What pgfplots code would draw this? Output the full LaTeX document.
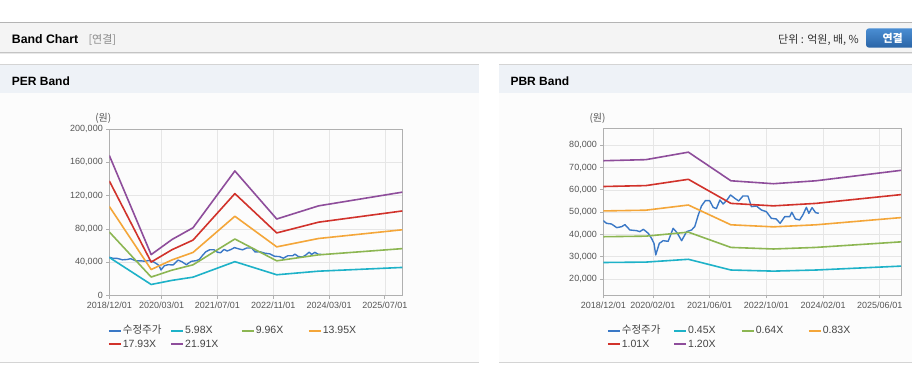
\documentclass[border=0pt]{standalone}
\usepackage{pgfplots}
\pgfplotsset{compat=1.18}
\usepackage{pgfplotstable}
\usepackage{fontspec}
\setmainfont{Liberation Sans}
\newfontfamily\kr{Noto Sans CJK KR}

\definecolor{cPrice}{HTML}{3A78C6}
\definecolor{cA}{HTML}{1EB2C8}
\definecolor{cB}{HTML}{8CB652}
\definecolor{cC}{HTML}{F4A639}
\definecolor{cD}{HTML}{D1322B}
\definecolor{cE}{HTML}{8E4D9B}
\definecolor{tickc}{HTML}{555555}
\definecolor{axisgray}{HTML}{B0B0B0}
\definecolor{gridgray}{HTML}{E6E6E6}
\definecolor{legtext}{HTML}{444444}
\definecolor{hdrfill}{HTML}{F4F4F4}
\definecolor{hdrline}{HTML}{B4B4B4}
\definecolor{hdrbot}{HTML}{C4C4C4}
\definecolor{shadow}{HTML}{E8E8E8}
\definecolor{panelfill}{HTML}{EEF2F7}
\definecolor{panelline}{HTML}{D4D4D4}
\definecolor{bodyfill}{HTML}{FCFCFC}
\definecolor{graytext}{HTML}{8A8A8A}
\definecolor{darktext}{HTML}{333333}
\definecolor{btntop}{HTML}{4A8ED3}
\definecolor{btnbot}{HTML}{2A64A6}

% PER band (months since 2018/12/01)
\pgfplotstableread{
m a b c d e
0 45926 76493 107136 137702 168269
12 13455 22410 31388 40343 49298
18 18418 30677 42966 55224 67483
24 22246 37051 51894 66700 81505
36 40843 68027 95279 122462 149645
48 25116 41832 58590 75306 92022
60 29422 49003 68634 88216 107797
84 33907 56473 79097 101663 124230
}\pertable

% PBR band
\pgfplotstableread{
m a b c d e
0 27405 38976 50547 61509 73080
12 27585 39232 50879 61913 73560
24 28845 41024 53203 64741 76920
36 24030 34176 44322 53934 64080
48 23535 33472 43409 52823 62760
60 24030 34176 44322 53934 64080
84 25785 36672 47559 57873 68760
}\pbrtable

% adjusted price
\pgfplotstableread{
m p
0 46190
0.9 44990
2.3 44690
3.8 43050
5.2 43500
6.1 44400
7.5 42000
9.4 41700
10.3 41250
11.3 42300
12.7 40500
13.6 38260
14.3 36000
14.8 30780
15.8 36000
16.9 37200
18.3 36900
19.7 42750
20.8 40800
22.1 37200
23.5 41250
24.9 42000
25.8 43500
26.8 48730
27.7 52770
28.8 55170
30.0 55170
31.0 52170
31.9 51580
32.9 55470
33.8 53670
34.9 55470
35.9 57710
37.1 56220
38.2 55020
39.4 57260
40.8 57260
41.8 52470
43.2 52770
44.6 50980
46.0 50230
47.4 47240
48.8 46940
49.9 44990
51.2 47990
52.6 47990
53.2 49930
54.2 46940
55.4 46490
56.3 48730
57.3 52170
58.0 49480
58.9 52020
59.9 49780
60.8 49480
}\pricetable

\pgfplotsset{
  bandaxis/.style={
    scale only axis, anchor=south west,
    xmin=0, xmax=84,
    axis line style={draw=axisgray, line width=0.8pt},
    grid=major, major grid style={draw=gridgray, line width=0.7pt},
    tick align=outside, major tick length=3pt,
    tick style={draw=axisgray, line width=0.8pt},
    xtick pos=bottom, ytick pos=left,
    ticklabel style={font=\fontsize{9}{10}\selectfont, text=tickc},
    scaled y ticks=false,
    yticklabel style={/pgf/number format/.cd, fixed, 1000 sep={,}, assume math mode=true},
    every axis plot/.append style={line width=1.6pt, line join=round},
    legend columns=4, legend cell align=left,
    legend image code/.code={\draw[##1, line width=2pt] (0pt,0pt) -- (12pt,0pt);},
    legend style={draw=none, fill=none, inner sep=0pt, row sep=0pt, anchor=north west,
      font=\fontsize{10.5}{12}\selectfont, text=legtext,
      nodes={inner xsep=1pt, inner ysep=1.5pt, text height=8pt, text depth=2.3pt},
      /tikz/every odd column/.style={column sep=0pt},
      /tikz/every even column/.style={column sep=4pt}},
  }
}

\begin{document}
\begin{tikzpicture}[x=1pt,y=1pt]
\useasboundingbox (0,0) rectangle (912,364);
\fill[white] (0,0) rectangle (912,364);
% top header band
\fill[hdrfill] (0,311.5) rectangle (912,341.5);
\draw[hdrline, line width=0.9pt] (0,341.7) -- (912,341.7);
\fill[shadow] (0,309.5) rectangle (912,311.3);
\draw[hdrbot, line width=0.9pt] (0,311.5) -- (912,311.5);
\node[anchor=base west, inner sep=0pt] at (11.7,320.7) {\fontsize{12.3}{14}\selectfont\bfseries Band Chart};
\node[anchor=base west, inner sep=0pt, text=graytext] at (88.3,320.7) {\kr\fontsize{11}{13}\selectfont [연결]};
\node[anchor=base east, inner sep=0pt, text=darktext] at (859,320.5) {\kr\fontsize{11}{13}\selectfont 단위 : 억원, 배, \%};
\shade[top color=btntop, bottom color=btnbot, rounded corners=3pt] (866,316.3) rectangle (918,335.7);
\node[text=white, inner sep=0pt] at (892.7,326) {\kr\fontsize{11}{13}\selectfont\bfseries 연결};
% panels
\foreach \xa/\xb in {0/479, 499/912}{
  \fill[bodyfill] (\xa,1.5) rectangle (\xb,271);
  \fill[panelfill] (\xa,271) rectangle (\xb,299.5);
  \draw[panelline, line width=0.9pt] (\xa,300) -- (\xb,300);
  \draw[panelline, line width=0.9pt] (\xa,1.5) -- (\xb,1.5);
}
\node[anchor=base west, inner sep=0pt] at (11.7,278.3) {\fontsize{12}{14}\selectfont\bfseries PER Band};
\node[anchor=base west, inner sep=0pt] at (510.3,278.3) {\fontsize{12}{14}\selectfont\bfseries PBR Band};
\node[text=tickc, inner sep=0pt] at (103.3,246) {\kr\fontsize{10}{12}\selectfont (원)};
\node[text=tickc, inner sep=0pt] at (597.5,246) {\kr\fontsize{10}{12}\selectfont (원)};

% PER axis
\begin{axis}[bandaxis,
  at={(109.3pt,68.3pt)}, width=293pt, height=166.7pt,
  ymin=0, ymax=200000,
  xtick={0,15,31,47,63,79},
  xticklabels={2018/12/01,2020/03/01,2021/07/01,2022/11/01,2024/03/01,2025/07/01},
  ytick={0,40000,80000,120000,160000,200000},
  legend style={at={(-0.0055,-0.170)}},
]
\addplot[cPrice, line width=1.4pt] table[x=m, y=p] {\pricetable};
\addlegendentry{\makebox[42.3pt][l]{\kr 수정주가}}
\addplot[cA] table[x=m, y=a] {\pertable};
\addlegendentry{\makebox[50.7pt][l]{5.98X}}
\addplot[cB] table[x=m, y=b] {\pertable};
\addlegendentry{\makebox[47pt][l]{9.96X}}
\addplot[cC] table[x=m, y=c] {\pertable};
\addlegendentry{13.95X}
\addplot[cD] table[x=m, y=d] {\pertable};
\addlegendentry{17.93X}
\addplot[cE] table[x=m, y=e] {\pertable};
\addlegendentry{21.91X}
\end{axis}

% PBR axis
\begin{axis}[bandaxis,
  at={(603.3pt,68.7pt)}, width=297.7pt, height=167pt,
  ymin=12685, ymax=87630,
  xtick={0,14,30,46,62,78},
  xticklabels={2018/12/01,2020/02/01,2021/06/01,2022/10/01,2024/02/01,2025/06/01},
  ytick={20000,30000,40000,50000,60000,70000,80000},
  legend style={at={(0.0114,-0.1722)}},
]
\addplot[cPrice, line width=1.4pt] table[x=m, y=p] {\pricetable};
\addlegendentry{\makebox[46.3pt][l]{\kr 수정주가}}
\addplot[cA] table[x=m, y=a] {\pbrtable};
\addlegendentry{\makebox[47.7pt][l]{0.45X}}
\addplot[cB] table[x=m, y=b] {\pbrtable};
\addlegendentry{\makebox[47pt][l]{0.64X}}
\addplot[cC] table[x=m, y=c] {\pbrtable};
\addlegendentry{0.83X}
\addplot[cD] table[x=m, y=d] {\pbrtable};
\addlegendentry{1.01X}
\addplot[cE] table[x=m, y=e] {\pbrtable};
\addlegendentry{1.20X}
\end{axis}
\end{tikzpicture}
\end{document}
